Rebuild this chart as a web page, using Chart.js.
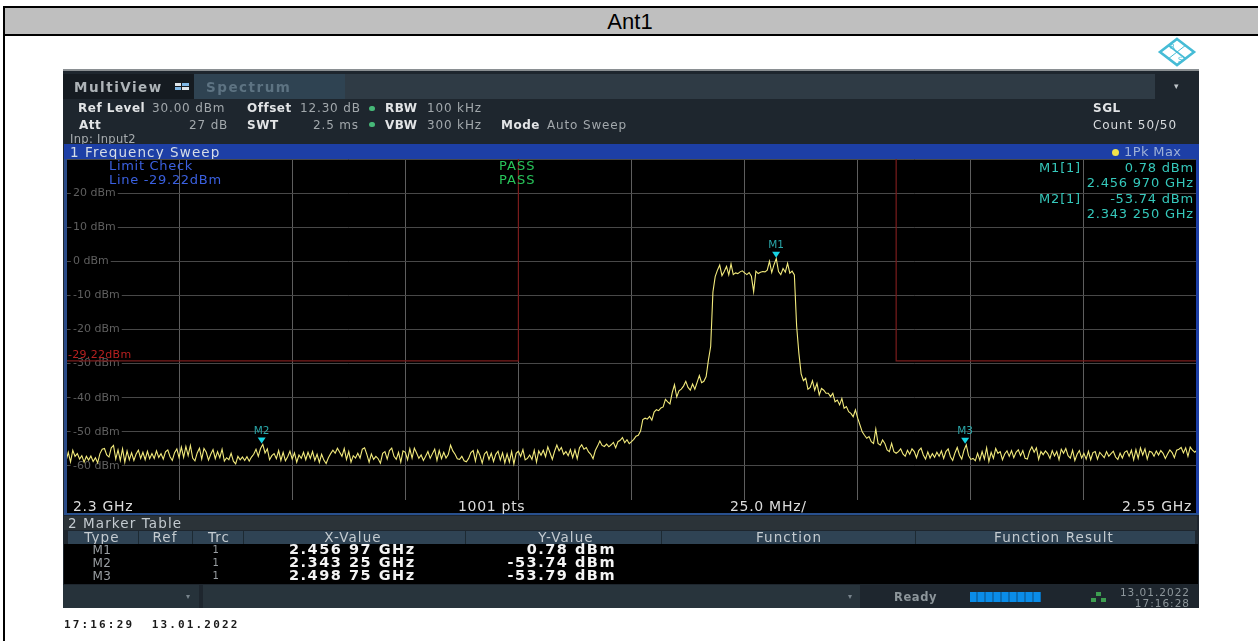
<!DOCTYPE html>
<html><head><meta charset="utf-8">
<script src="https://cdn.jsdelivr.net/npm/chart.js@4"></script>
<style>
html,body{margin:0;padding:0;background:#fff;width:1258px;height:641px;overflow:hidden}
#root{position:relative;width:1258px;height:641px;overflow:hidden}
.b{position:absolute}
.t{position:absolute;white-space:pre;line-height:14px;font-family:"DejaVu Sans",sans-serif;font-size:12px;color:#c8ccd0;letter-spacing:.5px}
.bo{font-weight:bold;color:#e2e4e6}
.d{color:#a2a8ac;letter-spacing:.85px}
.r{transform:translateX(-100%)}
.c{transform:translateX(-50%)}
#inst{position:absolute;left:0;top:0;width:1258px;height:641px;filter:blur(.45px)}
.tm{color:#35c8bb;font-size:13px;letter-spacing:.8px}
.big{font-family:"DejaVu Sans",sans-serif;font-weight:bold;font-size:14.5px;color:#f4f4f4;letter-spacing:1.5px;line-height:13px}
.hd{font-size:13.5px;color:#c4cbd0;letter-spacing:1.1px}
.row{font-size:12px;color:#9a9fa3}
.lim{color:#3a60e0;font-size:13px;letter-spacing:.7px}
.ok{color:#27c45a;font-size:13px;letter-spacing:1px}
.ax{font-size:14px;color:#dcdcdc;letter-spacing:.7px}
.dv{position:absolute;top:531px;height:13px;width:1px;background:#1d2a33}
</style></head><body>
<div id="root">
  <div class="b" style="left:3px;top:6px;width:1255px;height:2px;background:#000"></div>
  <div class="b" style="left:4px;top:8px;width:1254px;height:26px;background:#bfbfbf"></div>
  <div class="b" style="left:3px;top:34px;width:1255px;height:2px;background:#000"></div>
  <div class="b" style="left:3px;top:6px;width:2px;height:635px;background:#000"></div>
  <div class="t" style="left:630px;top:10px;font:22px/24px 'Liberation Sans',Arial,sans-serif;color:#000;letter-spacing:0;transform:translateX(-50%)">Ant1</div>
  <div class="b" style="left:63px;top:35.5px;width:1136px;height:34px;background:#fff"></div>

  <div id="inst">
  <svg class="b" style="left:1157px;top:37px" width="40" height="30" viewBox="0 0 40 30">
    <polygon points="20,2 37,15 20,28 3,15" fill="none" stroke="#46bcd6" stroke-width="2.6"/>
    <line x1="11" y1="8" x2="29" y2="22" stroke="#46bcd6" stroke-width="1.6"/>
    <line x1="29" y1="8" x2="11" y2="22" stroke="#46bcd6" stroke-width="1"/>
    <text x="13" y="12" font-family="DejaVu Sans" font-size="7" fill="#46bcd6">R</text>
    <text x="21" y="25" font-family="DejaVu Sans" font-size="7" fill="#46bcd6">S</text>
  </svg>

  <div class="b" style="left:63px;top:70px;width:1136px;height:538px;background:#1e262e"></div>
  <div class="b" style="left:63px;top:69px;width:1136px;height:1.5px;background:#8a8f92"></div>
  <div class="b" style="left:63px;top:74px;width:131px;height:25px;background:#151b21"></div>
  <div class="b" style="left:194px;top:74px;width:151px;height:25px;background:#2f4352"></div>
  <div class="b" style="left:345px;top:74px;width:810px;height:25px;background:#2f3b45"></div>
  <div class="t bo" style="left:74px;top:80px;font-size:13.5px;color:#aeb4b8;letter-spacing:1.5px">MultiView</div>
  <div class="b" style="left:175px;top:83px;width:6px;height:3px;background:#dfe6ea"></div>
  <div class="b" style="left:182px;top:83px;width:7px;height:3px;background:#7fb8e6"></div>
  <div class="b" style="left:175px;top:87px;width:6px;height:3px;background:#7fb8e6"></div>
  <div class="b" style="left:182px;top:87px;width:7px;height:3px;background:#dfe6ea"></div>
  <div class="t bo" style="left:206px;top:80px;font-size:13.5px;color:#5d7382;letter-spacing:1.5px">Spectrum</div>
  <div class="t" style="left:1174px;top:79px;font-size:9px;color:#c0c6ca">▾</div>

  <div class="t bo" style="left:78px;top:101px">Ref Level</div>
  <div class="t d" style="left:152px;top:101px">30.00 dBm</div>
  <div class="t bo" style="left:247px;top:101px">Offset</div>
  <div class="t d" style="left:300px;top:101px">12.30 dB</div>
  <div class="b" style="left:369px;top:106px;width:6px;height:5px;border-radius:3px;background:#46b878"></div>
  <div class="t bo" style="left:385px;top:101px">RBW</div>
  <div class="t d" style="left:427px;top:101px">100 kHz</div>
  <div class="t bo" style="left:79px;top:118px">Att</div>
  <div class="t d" style="left:189px;top:118px">27 dB</div>
  <div class="t bo" style="left:247px;top:118px">SWT</div>
  <div class="t d" style="left:313px;top:118px">2.5 ms</div>
  <div class="b" style="left:369px;top:122px;width:6px;height:5px;border-radius:3px;background:#46b878"></div>
  <div class="t bo" style="left:385px;top:118px">VBW</div>
  <div class="t d" style="left:427px;top:118px">300 kHz</div>
  <div class="t bo" style="left:501px;top:118px">Mode</div>
  <div class="t d" style="left:547px;top:118px">Auto Sweep</div>
  <div class="t" style="left:70px;top:132px;font-size:11.5px;color:#a8adb0;letter-spacing:.3px">Inp: Input2</div>
  <div class="t bo" style="left:1093px;top:101px">SGL</div>
  <div class="t bo" style="left:1093px;top:118px;font-weight:normal;color:#d8dbde;letter-spacing:.9px">Count 50/50</div>

  <div class="b" style="left:64px;top:144px;width:1135px;height:15px;background:#1d3fa6"></div>
  <div class="t" style="left:70px;top:145px;font-size:13.5px;color:#d6dde6;letter-spacing:1.1px">1 Frequency Sweep</div>
  <div class="b" style="left:1111.5px;top:148.5px;width:7px;height:7px;border-radius:4px;background:#f2e24a"></div>
  <div class="t" style="left:1124px;top:145px;font-size:13px;color:#9db0d6;letter-spacing:.4px">1Pk Max</div>

  <div class="b" style="left:66px;top:159px;width:1131px;height:354px;background:#000"></div>
  <canvas id="plot" class="b" style="left:66px;top:159px" width="1131" height="341"></canvas>
  <div class="b" style="left:64px;top:159px;width:3px;height:355px;background:#2a4a86"></div>
  <div class="b" style="left:1196px;top:159px;width:2.5px;height:355px;background:#1d3fa6"></div>
  <div class="b" style="left:64px;top:512.5px;width:1135px;height:2px;background:#28508e"></div>

  <div class="t lim" style="left:109px;top:159px">Limit Check</div>
  <div class="t lim" style="left:109px;top:173px">Line -29.22dBm</div>
  <div class="t ok" style="left:499px;top:159px">PASS</div>
  <div class="t ok" style="left:499px;top:173px">PASS</div>
  <div class="t" style="left:68px;top:348px;color:#b82020;font-size:11px;letter-spacing:.3px">-29.22dBm</div>

  <div class="t tm r" style="left:1081px;top:161px">M1[1]</div>
  <div class="t tm r" style="left:1194px;top:161px">0.78 dBm</div>
  <div class="t tm r" style="left:1194px;top:176px">2.456 970 GHz</div>
  <div class="t tm r" style="left:1081px;top:192px">M2[1]</div>
  <div class="t tm r" style="left:1194px;top:192px">-53.74 dBm</div>
  <div class="t tm r" style="left:1194px;top:207px">2.343 250 GHz</div>

  <div class="t ax" style="left:73px;top:499px">2.3 GHz</div>
  <div class="t ax" style="left:458px;top:499px">1001 pts</div>
  <div class="t ax" style="left:730px;top:499px">25.0 MHz/</div>
  <div class="t ax r" style="left:1192px;top:499px">2.55 GHz</div>

  <div class="b" style="left:64px;top:516px;width:1133px;height:13.5px;background:#2b3338"></div>
  <div class="t hd" style="left:68px;top:516px">2 Marker Table</div>
  <div class="b" style="left:68px;top:531px;width:1127px;height:13px;background:#2f4354"></div>
  <div class="dv" style="left:138px"></div><div class="dv" style="left:192px"></div><div class="dv" style="left:243px"></div><div class="dv" style="left:465px"></div><div class="dv" style="left:661px"></div><div class="dv" style="left:915px"></div>
  <div class="t hd c" style="left:102px;top:530px">Type</div>
  <div class="t hd c" style="left:165px;top:530px">Ref</div>
  <div class="t hd c" style="left:219px;top:530px">Trc</div>
  <div class="t hd c" style="left:353px;top:530px">X-Value</div>
  <div class="t hd c" style="left:566px;top:530px">Y-Value</div>
  <div class="t hd c" style="left:789px;top:530px">Function</div>
  <div class="t hd c" style="left:1054px;top:530px">Function Result</div>
  <div class="b" style="left:64px;top:544px;width:1134px;height:40px;background:#000"></div>
  <div class="t row c" style="left:102px;top:543px">M1</div><div class="t row c" style="left:102px;top:556px">M2</div><div class="t row c" style="left:102px;top:569px">M3</div>
  <div class="t row c" style="left:216px;top:543px;font-size:10px">1</div><div class="t row c" style="left:216px;top:556px;font-size:10px">1</div><div class="t row c" style="left:216px;top:569px;font-size:10px">1</div>
  <div class="t big" style="left:289px;top:543px">2.456 97 GHz</div>
  <div class="t big" style="left:289px;top:556px">2.343 25 GHz</div>
  <div class="t big" style="left:289px;top:569px">2.498 75 GHz</div>
  <div class="t big r" style="left:616px;top:543px">0.78 dBm</div>
  <div class="t big r" style="left:616px;top:556px">-53.74 dBm</div>
  <div class="t big r" style="left:616px;top:569px">-53.79 dBm</div>

  <div class="b" style="left:63px;top:585px;width:136px;height:23px;background:#26323a"></div>
  <div class="b" style="left:203px;top:585px;width:657px;height:23px;background:#28343c"></div>
  <div class="t" style="left:186px;top:590px;font-size:8px;color:#78848c">▾</div>
  <div class="t" style="left:848px;top:590px;font-size:8px;color:#78848c">▾</div>
  <div class="t" style="left:894px;top:590px;font-size:11.5px;color:#8d969b;font-weight:bold;letter-spacing:.6px">Ready</div>
  <div class="b" style="left:970px;top:592px;width:71px;height:10px;background:repeating-linear-gradient(90deg,#0a8ce8 0,#0a8ce8 6px,#0a6cb4 6px,#0a6cb4 8px)"></div>
  <div class="b" style="left:1096px;top:592px;width:5px;height:4px;background:#3d9e50"></div>
  <div class="b" style="left:1091px;top:598px;width:5px;height:4px;background:#3d9e50"></div>
  <div class="b" style="left:1101px;top:598px;width:5px;height:4px;background:#3d9e50"></div>
  <div class="t r" style="left:1190px;top:585px;font-size:10.5px;color:#8d969b;letter-spacing:1px">13.01.2022</div>
  <div class="t r" style="left:1190px;top:596px;font-size:10.5px;color:#8d969b;letter-spacing:1px">17:16:28</div>

  <div class="t" style="left:64px;top:618px;font-family:'DejaVu Sans Mono',monospace;font-weight:bold;font-size:11px;color:#1a1a1a;letter-spacing:2.15px">17:16:29  13.01.2022</div>
  </div>
</div>
<script>
const startGHz = 2.3;
const stopGHz = 2.55;
const divGHz = 0.025;
const sweepStepGHz = 0.0005;
const refTopDbm = 30;
const refBottomDbm = -70;
const yTickLabels = {20:'20 dBm',10:'10 dBm',0:'0 dBm','-10':'-10 dBm','-20':'-20 dBm','-30':'-30 dBm','-40':'-40 dBm','-50':'-50 dBm','-60':'-60 dBm'};
const markerNames = ['M1','M2','M3'];
const markerGHz = [2.45697,2.34325,2.49875];
const markerDbm = [0.78,-53.74,-53.79];
const limitGHz = [2.3,2.4,2.4,null,2.4835,2.4835,2.55];
const limitLevels = [-29.22,-29.22,30,null,30,-29.22,-29.22];

const floorLeft = [
-58.6,-56.0,-58.8,-55.4,-57.2,-56.4,-58.0,-57.0,-58.9,-57.2,
-58.3,-57.1,-58.7,-57.6,-59.1,-56.4,-55.1,-54.9,-56.8,-57.4,
-54.7,-54.0,-58.0,-55.3,-58.4,-55.0,-58.9,-55.6,-58.2,-56.2,
-58.4,-56.5,-55.4,-57.8,-56.0,-58.2,-55.7,-57.9,-56.4,-57.8,
-55.6,-57.5,-56.4,-58.0,-55.9,-55.3,-57.3,-58.4,-56.1,-55.0,
-57.6,-54.5,-57.5,-54.3,-57.0,-54.0,-57.7,-58.5,-56.2,-54.8,
-58.0,-54.9,-56.0,-58.3,-56.6,-55.2,-57.9,-55.8,-57.6,-55.1,
-58.6,-57.6,-58.2,-56.3,-58.6,-59.4,-57.2,-58.2,-57.4,-58.4,
-57.3,-58.6,-57.4,-56.6,-55.1,-57.2,-54.9,-53.7,-56.2,-55.0,
-58.2,-57.0,-56.4,-57.9,-55.5,-58.4,-56.0,-58.5,-57.3,-55.7];
const floorMid = [
-58.0,-56.2,-58.9,-56.8,-57.8,-56.0,-58.2,-56.0,-57.8,-55.8,
-58.4,-56.6,-59.0,-56.6,-58.3,-59.3,-57.6,-56.4,-55.4,-56.3,
-54.8,-56.0,-57.2,-54.9,-58.1,-55.8,-58.9,-57.0,-57.7,-56.3,
-57.7,-55.1,-54.7,-56.6,-58.9,-56.5,-58.1,-57.2,-57.9,-59.2,
-56.3,-55.8,-58.0,-55.5,-54.8,-57.2,-58.1,-56.0,-58.9,-55.6,
-56.0,-58.2,-55.0,-57.7,-54.8,-56.2,-57.8,-56.8,-58.4,-57.2,
-55.8,-57.8,-56.4,-55.1,-58.4,-55.5,-57.9,-56.0,-57.7,-56.7,
-53.9,-55.6,-56.6,-57.9,-58.1,-57.2,-58.5,-58.8,-57.8,-56.1,
-55.5,-58.6,-55.4,-56.9,-59.2,-56.5,-55.8,-58.1,-56.3,-58.7,
-56.6,-55.7,-58.3,-56.2,-59.1,-56.5,-58.9,-55.8,-59.4,-56.3,
-55.7,-57.2,-55.2,-58.2,-57.8,-56.8,-58.1,-55.4,-58.9,-55.6];
const skirtLeft = [
-56.9,-55.4,-57.3,-54.4,-56.2,-58.1,-55.7,-53.9,-55.6,-54.6,
-56.6,-55.8,-57.0,-55.2,-57.6,-55.3,-57.9,-54.7,-53.8,-55.1,
-54.6,-55.9,-56.6,-57.9,-55.5,-54.2,-52.7,-54.0,-54.3,-53.6,
-54.4,-53.8,-53.1,-54.7,-52.9,-52.5,-51.7,-53.2,-52.3,-53.5,
-52.9,-52.2,-51.3,-51.0,-49.8,-46.4,-46.0,-46.3,-45.5,-46.6,
-44.2,-43.5,-43.8,-43.0,-42.7,-40.5,-41.2,-41.8,-38.5,-36.2,
-39.8,-38.0,-37.5,-36.6,-35.2,-37.0,-37.8,-36.0,-37.5,-35.5];
const carrierBand = [
-33.5,-35.6,-35.2,-33.8,-29.0,-25.0,-9.0,-4.5,-2.6,-1.1,
-4.2,-3.0,-1.5,-4.0,-0.8,-3.9,-3.4,-3.6,-3.1,-2.8,
-3.4,-3.9,-3.3,-4.4,-8.9,-2.9,-3.6,-3.2,-3.0,-3.1,
-2.6,0.0,-3.3,-1.0,0.78,-3.0,-3.9,-2.1,-3.2,-0.6,
-3.5,-2.9,-4.0,-19.0,-27.0,-33.0,-35.0,-34.3,-37.5,-37.0];
const skirtRight = [
-35.0,-37.8,-35.8,-39.2,-37.3,-37.8,-38.7,-38.7,-39.7,-38.7,
-41.2,-40.7,-42.1,-40.2,-43.1,-42.6,-44.1,-44.6,-45.6,-43.6,
-46.0,-48.0,-50.0,-51.0,-51.9,-51.4,-52.9,-53.4,-49.2,-53.4,
-53.9,-52.4,-53.4,-55.3,-55.8,-53.4,-55.8,-56.3,-55.8,-55.0];
const floorRight = [
-56.5,-57.2,-55.4,-56.6,-55.0,-55.8,-57.6,-55.5,-54.8,-56.8,
-58.0,-55.9,-57.7,-56.4,-57.5,-56.0,-57.2,-55.6,-57.8,-55.8,
-55.0,-57.3,-58.4,-56.2,-54.6,-56.8,-58.0,-55.4,-53.8,-57.0,
-58.1,-57.8,-58.5,-56.3,-58.3,-55.8,-58.0,-54.7,-58.7,-56.0,
-57.8,-54.9,-56.3,-55.8,-58.2,-56.5,-55.6,-57.2,-55.5,-57.6,
-56.0,-55.3,-57.0,-55.5,-57.8,-58.0,-55.7,-54.4,-56.0,-54.7,
-58.1,-55.8,-56.7,-55.6,-56.4,-57.8,-55.5,-57.1,-55.8,-58.2,
-55.1,-56.3,-54.9,-57.0,-57.7,-55.4,-58.4,-56.6,-55.5,-57.7,
-56.3,-58.0,-55.7,-58.2,-56.1,-55.8,-58.0,-56.0,-56.8,-57.6,
-55.8,-57.2,-56.4,-55.7,-57.4,-58.1,-56.3,-57.7,-56.0,-55.6,
-57.2,-55.4,-58.2,-55.2,-57.8,-54.7,-56.8,-55.0,-58.0,-55.7,
-56.0,-57.2,-55.6,-56.8,-55.5,-56.3,-57.8,-56.5,-55.3,-56.1,
-57.6,-55.4,-55.1,-54.6,-56.2,-54.7,-57.2,-54.5,-55.4,-56.0,
-55.4];

const traceDbm = [...floorLeft,...floorMid,...skirtLeft,...carrierBand,...skirtRight,...floorRight];
const tracePoints = traceDbm.map((y,i)=>({x:startGHz+i*sweepStepGHz,y}));
const limitPoints = limitGHz.map((x,i)=>({x,y:limitLevels[i]}));

const markerPlugin = {
  id:'markers',
  afterDatasetsDraw(chart){
    const {ctx,scales:{x,y}} = chart;
    ctx.save();
    markerNames.forEach((name,i)=>{
      const px = x.getPixelForValue(markerGHz[i]);
      const py = y.getPixelForValue(markerDbm[i]);
      ctx.fillStyle = '#17d4e2';
      ctx.beginPath();
      ctx.moveTo(px-4,py-7);ctx.lineTo(px+4,py-7);ctx.lineTo(px,py-1);ctx.closePath();ctx.fill();
      ctx.font = '10.5px "DejaVu Sans"';
      ctx.fillStyle = '#2aa6a8';
      ctx.textAlign = 'center';
      ctx.textBaseline = 'middle';
      ctx.fillText(name,px,py-13);
    });
    ctx.restore();
  }
};

const flushAxis = s => {
  s.paddingTop = s.paddingBottom = s.paddingLeft = s.paddingRight = 0;
  if (s.isHorizontal()) s.height = 0; else s.width = 0;
};

new Chart(document.getElementById('plot'),{
  type:'scatter',
  data:{datasets:[
    {label:'Limit',data:limitPoints,showLine:true,borderColor:'#7a1c1c',borderWidth:1.2,pointRadius:0,spanGaps:false,order:2},
    {label:'1Pk Max',data:tracePoints,showLine:true,borderColor:'#f2ea7c',borderWidth:1.1,pointRadius:0,tension:0,order:1}
  ]},
  options:{
    responsive:false,animation:false,devicePixelRatio:1,
    layout:{padding:0},
    plugins:{legend:{display:false},tooltip:{enabled:false}},
    scales:{
      x:{type:'linear',min:startGHz,max:stopGHz,afterFit:flushAxis,
        ticks:{display:false,stepSize:divGHz},
        afterBuildTicks(s){s.ticks=[];for(let k=0;k<=10;k++)s.ticks.push({value:startGHz+k*divGHz});},
        grid:{color:'#5e5e5e',lineWidth:1,drawTicks:false},border:{display:false}},
      y:{type:'linear',min:refBottomDbm,max:refTopDbm,afterFit:flushAxis,
        ticks:{stepSize:10,mirror:true,padding:7,color:'#5f5f5f',font:{family:'DejaVu Sans',size:11},
          textStrokeColor:'#000',textStrokeWidth:6,
          callback:v=>yTickLabels[v]||''},
        grid:{color:'#484848',lineWidth:1,drawTicks:false},border:{display:false}}
    }
  },
  plugins:[markerPlugin]
});
</script>
</body></html>
